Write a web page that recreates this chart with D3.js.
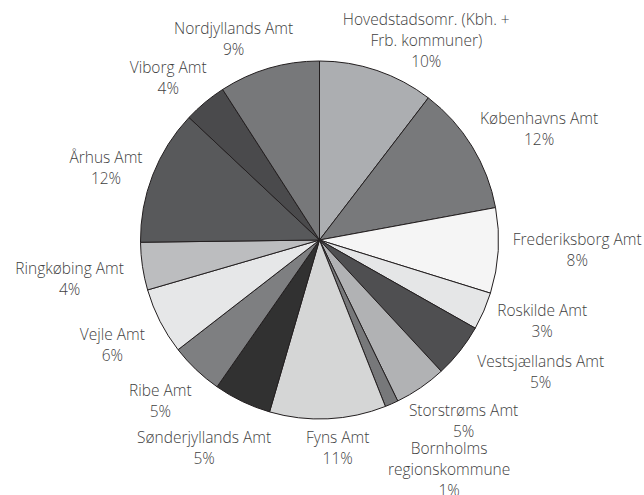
<!DOCTYPE html>
<html>
<head>
<meta charset="utf-8">
<script src="https://cdn.jsdelivr.net/npm/d3@7"></script>
<style>
  body { margin: 0; background: #fff; }
  text { font-family: "Open Sans", sans-serif; font-size: 15.5px; font-weight: 300; fill: #3f3f3f; }
</style>
</head>
<body>
<div id="chart"></div>
<script>
// regions (amter) and their share, clockwise from 12 o'clock
const regions = [
    ["Hovedstadsomr. (Kbh. +", "Frb. kommuner)"],
    ["Københavns Amt"],
    ["Frederiksborg Amt"],
    ["Roskilde Amt"],
    ["Vestsjællands Amt"],
    ["Storstrøms Amt"],
    ["Bornholms", "regionskommune"],
    ["Fyns Amt"],
    ["Sønderjyllands Amt"],
    ["Ribe Amt"],
    ["Vejle Amt"],
    ["Ringkøbing Amt"],
    ["Århus Amt"],
    ["Viborg Amt"],
    ["Nordjyllands Amt"]
];
const shares = [10.4, 11.7, 7.7, 3.4, 4.9, 4.7, 1.2, 10.5, 5.2, 4.8, 6.0, 4.3, 12.2, 3.9, 9.1];
const pctLabels = ["10%", "12%", "8%", "3%", "5%", "5%", "1%", "11%", "5%", "5%", "6%", "4%", "12%", "4%", "9%"];

const fills = ["#acaeb1", "#78797b", "#f5f5f5", "#e5e6e7", "#4f4f51", "#b1b2b4", "#77787a",
    "#d5d6d6", "#313131", "#7e7f81", "#e6e7e8", "#bcbdbf", "#58595b", "#4a4a4c", "#77787a"];

// label placement: [angle in degrees clockwise from top, distance from pie centre]
const labelLayout = [
    [28.2, 226], [63.2, 246], [92.4, 258], [110, 237], [121, 258],
    [141.6, 232], [150.6, 264], [175, 209], [209, 238], [224.5, 227],
    [243, 232.5], [261, 253], [288.4, 225], [316.8, 221], [336.8, 218]
];

const width = 644, height = 495;
const cx = 319.5, cy = 240, radius = 179;
const lineH = 21;

const svg = d3.select("#chart").append("svg")
    .attr("width", width)
    .attr("height", height);

const pie = d3.pie().sort(null).value(d => d);
const arc = d3.arc().innerRadius(0).outerRadius(radius);

const g = svg.append("g").attr("transform", "translate(" + cx + "," + cy + ")");

g.selectAll("path")
    .data(pie(shares))
    .enter()
    .append("path")
    .attr("d", arc)
    .attr("fill", (d, i) => fills[i])
    .attr("stroke", "#231f20")
    .attr("stroke-width", 1)
    .attr("stroke-linejoin", "round");

// labels, one line per tspan, block centred on the layout point
g.selectAll("text.lbl")
    .data(regions)
    .enter()
    .append("text")
    .attr("class", "lbl")
    .attr("text-anchor", "middle")
    .each(function (lines, i) {
        const a = labelLayout[i][0] * Math.PI / 180;
        const r = labelLayout[i][1];
        const x = r * Math.sin(a), y = -r * Math.cos(a);
        const all = lines.concat([pctLabels[i]]);
        const top = y - (all.length - 1) * lineH / 2;
        const t = d3.select(this);
        all.forEach((s, k) => {
            t.append("tspan")
                .attr("x", x)
                .attr("y", top + k * lineH + 5)
                .text(s);
        });
    });
</script>
</body>
</html>
